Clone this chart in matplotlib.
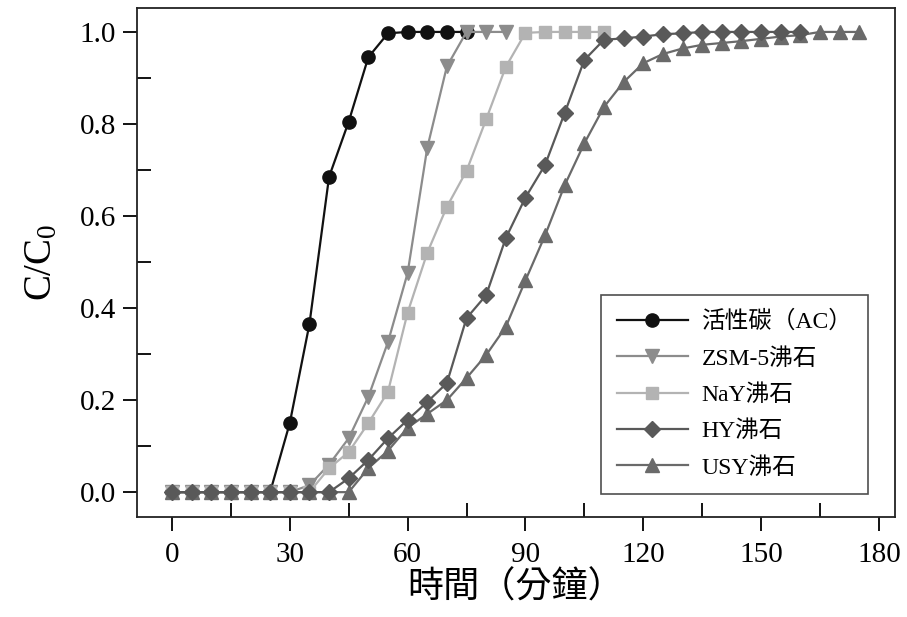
import matplotlib
matplotlib.use("Agg")
import matplotlib.pyplot as plt

plt.rcParams['font.family'] = ['Liberation Serif', 'Noto Sans CJK TC', 'DejaVu Sans']
plt.rcParams['mathtext.fontset'] = 'custom'
plt.rcParams['mathtext.rm'] = 'Liberation Serif'
plt.rcParams['mathtext.it'] = 'Liberation Serif'

# time (min)
t_ac = [0, 5, 10, 15, 20, 25, 30, 35, 40, 45, 50, 55, 60, 65, 70, 75]
c_ac = [0, 0, 0, 0, 0, 0, 0.15, 0.365, 0.685, 0.805, 0.945, 0.997, 1.0, 1.0, 1.0, 1.0]

t_zsm = [0, 5, 10, 15, 20, 25, 30, 35, 40, 45, 50, 55, 60, 65, 70, 75, 80, 85]
c_zsm = [0, 0, 0, 0, 0, 0, 0, 0.015, 0.06, 0.117, 0.207, 0.326, 0.476, 0.748, 0.925, 1.0, 1.0, 1.0]

t_nay = [0, 5, 10, 15, 20, 25, 30, 35, 40, 45, 50, 55, 60, 65, 70, 75, 80, 85, 90, 95, 100, 105, 110]
c_nay = [0, 0, 0, 0, 0, 0, 0, 0, 0.052, 0.087, 0.15, 0.218, 0.39, 0.52, 0.62, 0.698, 0.81, 0.924,
         0.998, 1.0, 1.0, 1.0, 1.0]

t_hy = [0, 5, 10, 15, 20, 25, 30, 35, 40, 45, 50, 55, 60, 65, 70, 75, 80, 85, 90, 95, 100,
        105, 110, 115, 120, 125, 130, 135, 140, 145, 150, 155, 160]
c_hy = [0, 0, 0, 0, 0, 0, 0, 0, 0, 0.03, 0.07, 0.117, 0.157, 0.196, 0.237, 0.378, 0.428, 0.552,
        0.64, 0.711, 0.824, 0.939, 0.983, 0.986, 0.99, 0.995, 0.997, 1.0, 1.0, 1.0, 1.0, 1.0, 1.0]

t_usy = [0, 5, 10, 15, 20, 25, 30, 35, 40, 45, 50, 55, 60, 65, 70, 75, 80, 85, 90, 95, 100,
         105, 110, 115, 120, 125, 130, 135, 140, 145, 150, 155, 160, 165, 170, 175]
c_usy = [0, 0, 0, 0, 0, 0, 0, 0, 0, 0.0, 0.052, 0.09, 0.14, 0.17, 0.2, 0.248, 0.298, 0.359,
         0.46, 0.558, 0.667, 0.758, 0.837, 0.891, 0.932, 0.952, 0.964, 0.972, 0.976, 0.98,
         0.985, 0.99, 0.993, 1.0, 1.0, 1.0]

labels = ['活性碳（AC）', 'ZSM-5沸石', 'NaY沸石', 'HY沸石', 'USY沸石']
xticks = [0, 30, 60, 90, 120, 150, 180]
yticks = [0.0, 0.2, 0.4, 0.6, 0.8, 1.0]

fig = plt.figure(figsize=(9.07, 6.17), dpi=100)
ax = fig.add_axes([137/907, 1-517/617, (895-137)/907, (517-8)/617])

ms = 9.5
lw = 1.6
h_ac, = ax.plot(t_ac, c_ac, color='#111111', marker='o', ms=ms, lw=lw, zorder=2)
h_zsm, = ax.plot(t_zsm, c_zsm, color='#8c8c8c', marker='v', ms=ms, lw=lw, zorder=3)
h_nay, = ax.plot(t_nay, c_nay, color='#b3b3b3', marker='s', ms=ms*0.9, lw=lw, zorder=4)
h_usy, = ax.plot(t_usy, c_usy, color='#6a6a6a', marker='^', ms=ms, lw=lw, zorder=5)
h_hy, = ax.plot(t_hy, c_hy, color='#595959', marker='D', ms=ms*0.85, lw=lw, zorder=6)

ax.set_xlim(-8.9, 184.1)
ax.set_ylim(-0.054, 1.052)
ax.set_xticks(xticks)
ax.set_yticks(yticks)
ax.set_yticklabels([f'{v:.1f}' for v in yticks])
ax.set_xticks([15, 45, 75, 105, 135, 165], minor=True)
ax.set_yticks([0.1, 0.3, 0.5, 0.7, 0.9], minor=True)
ax.tick_params(which='major', direction='out', length=10, width=1.3, labelsize=21)
ax.tick_params(which='minor', direction='in', length=10, width=1.3)
ax.tick_params(axis='x', which='major', pad=8)
ax.tick_params(axis='y', which='major', pad=5)
for s in ax.spines.values():
    s.set_linewidth(1.3)
    s.set_color('#222222')

ax.set_ylabel('C/C$_0$', fontsize=28, labelpad=14)
ax.set_xlabel('時間（分鐘）', fontsize=26, labelpad=2)

leg = ax.legend([h_ac, h_zsm, h_nay, h_hy, h_usy], labels,
                loc='lower right', bbox_to_anchor=(868/907, 1-494/617),
                bbox_transform=fig.transFigure, borderaxespad=0,
                fontsize=17, frameon=True, fancybox=False, edgecolor='#222222',
                handlelength=3.0, labelspacing=0.62, borderpad=0.65, handletextpad=0.6)
leg.get_frame().set_linewidth(1.2)

fig.savefig('out.png', dpi=100)
